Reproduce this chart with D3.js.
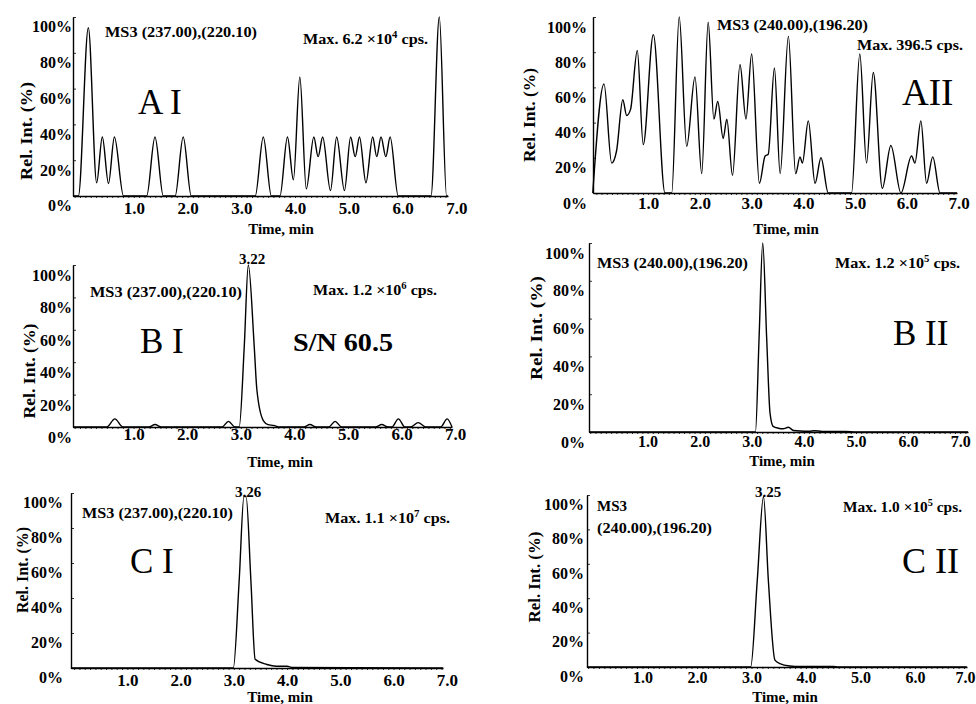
<!DOCTYPE html>
<html><head><meta charset="utf-8">
<script src="https://cdn.jsdelivr.net/npm/d3@7"></script>
<style>
body{margin:0;background:#fff}
svg{display:block}
text{font-family:"Liberation Serif","Times New Roman",serif;fill:#000}
</style></head>
<body><svg id="chart" width="976" height="704"></svg>
<script>
// ---------- data ----------
const X_TICKS = [1, 2, 3, 4, 5, 6, 7];
const Y_TICKS = [0, 20, 40, 60, 80, 100];

// A I : MS3 (237.00),(220.10)
const aiTime = [-0.13, -0.03, 0.155, 0.31, 0.415, 0.53, 0.64, 0.81, 1.24, 1.395, 1.55, 1.77, 1.92, 2.07, 3.26, 3.41, 3.56, 3.72, 3.86, 3.97, 4.09, 4.21, 4.35, 4.43, 4.515, 4.66, 4.775, 4.92, 5.035, 5.12, 5.20, 5.32, 5.445, 5.52, 5.60, 5.69, 5.77, 5.92, 6.53, 6.685, 6.82, 6.846];
const aiInt  = [0, 0, 94, 7.4, 33, 7, 33, 0, 0, 33, 0, 0, 33, 0, 0, 33, 0, 0, 33, 9, 66.5, 4, 33, 22, 33, 3, 33, 3, 33, 22, 33, 7.4, 33, 22, 33, 22, 33, 0, 0, 100, 0, 0];

// A II : MS3 (240.00),(196.20)
const aiiTime = [-0.07, 0.147, 0.295, 0.39, 0.51, 0.585, 0.66, 0.79, 0.905, 1.10, 1.325, 1.455, 1.60, 1.745, 1.905, 2.035, 2.16, 2.27, 2.345, 2.45, 2.52, 2.63, 2.775, 2.89, 3.00, 3.15, 3.26, 3.32, 3.44, 3.55, 3.71, 3.85, 3.935, 3.98, 4.095, 4.225, 4.34, 4.48, 4.93, 5.09, 5.22, 5.35, 5.525, 5.69, 5.885, 6.09, 6.155, 6.27, 6.38, 6.50, 6.64, 6.968];
const aiiInt  = [0, 62, 17, 24, 53, 44, 47.5, 81, 27.5, 90, 0, 0, 100, 26.5, 66, 11, 97, 42, 52, 31, 42, 10, 73, 42, 79, 5.5, 21, 22, 71, 11, 89, 11, 20.5, 17, 41, 5.5, 20, 0, 0, 79, 17, 68.5, 2.6, 27, 0, 21, 17, 41, 5.5, 20.5, 0, 0];

// B I
const biTime = [-0.13, 0.5, 0.65, 0.8, 1.28, 1.40, 1.52, 2.65, 2.77, 2.89, 2.97, 3.065, 3.14, 3.25, 3.30, 3.42, 3.51, 3.61, 3.73, 4.17, 4.29, 4.41, 4.64, 4.76, 4.88, 5.51, 5.63, 5.75, 5.82, 5.94, 6.06, 6.17, 6.31, 6.45, 6.73, 6.85, 6.94];
const biInt  = [0, 0, 5, 0, 0, 1.5, 0, 0, 3.5, 0, 0, 50, 100, 50, 23, 4, 1.5, 1, 0, 0, 1.5, 0, 0, 3.5, 0, 0, 1.5, 0, 0, 5, 0, 0, 2.7, 0, 0, 5, 0];

// B II
const biiTime = [-0.125, 3.07, 3.14, 3.21, 3.285, 3.35, 3.41, 3.51, 3.60, 3.70, 3.80, 3.93, 4.10, 4.20, 4.35, 4.80, 5.00, 7.15];
const biiInt  = [0, 0, 50, 100, 50, 10, 3, 2, 1.7, 2.5, 0.8, 0.5, 0.4, 0.7, 0.3, 0.3, 0, 0];

// C I
const ciTime = [-0.06, 2.99, 3.10, 3.19, 3.23, 3.32, 3.40, 3.62, 3.80, 4.00, 4.10, 6.93];
const ciInt  = [0, 0, 50, 98, 98, 50, 5, 2, 1, 1, 0.3, 0];

// C II
const ciiTime = [-0.02, 2.985, 3.105, 3.22, 3.31, 3.43, 3.52, 3.70, 3.90, 4.50, 4.60, 6.95];
const ciiInt  = [0, 0, 50, 99, 50, 4, 2, 0.6, 0.3, 0.3, 0, 0];

const panelNames = ["A I", "AII", "B I", "B II", "C I", "C II"];
const ms3Text = [["MS3 (237.00),(220.10)"], ["MS3 (240.00),(196.20)"], ["MS3 (237.00),(220.10)"], ["MS3 (240.00),(196.20)"], ["MS3 (237.00),(220.10)"], ["MS3", "(240.00),(196.20)"]];
const maxMant = ["6.2", "396.5", "1.2", "1.2", "1.1", "1.0"];
const maxExp  = ["4", null, "6", "5", "7", "5"];
const peakLabel = [null, null, "3.22", null, "3.26", "3.25"];
const snText = "S/N 60.5";

// ---------- layout (pixels) ----------
const layout = [
  {t: aiTime, v: aiInt, ax: [73, 448], ay: [196, 17], zero: 80, slope: 53.75, yLabR: 72, yLabDy: 9.3, xLabY: 208, xFs: 17,
   ms3: [{x: 105, y: 37, w: 152}], max: {x: 303, y: 44, w: 125}, big: {x: 138, y: 114, s: 35},
   ylab: {x: 26, y: 131, w: 98}, time: {x: 281, y: 234}, peak: null},
  {t: aiiTime, v: aiiInt, ax: [593, 957], ay: [193, 17], zero: 596.4, slope: 51.75, yLabR: 587, yLabDy: 9.5, xLabY: 203, xFs: 17,
   ms3: [{x: 717, y: 30, w: 151}], max: {x: 857, y: 50, w: 106}, big: {x: 902, y: 105, s: 37},
   ylab: {x: 529, y: 115, w: 94}, time: {x: 786, y: 234}, peak: null},
  {t: biTime, v: biInt, ax: [73, 452], ay: [427, 265], zero: 80, slope: 53.6, yLabR: 72, yLabDy: 10, xLabY: 434, xFs: 17,
   ms3: [{x: 90, y: 297, w: 152}], max: {x: 313, y: 295, w: 124}, big: {x: 140, y: 353, s: 35},
   ylab: {x: 29, y: 371, w: 95}, time: {x: 280, y: 467}, peak: {x: 252, y: 264}, sn: {x: 293, y: 351, w: 100}},
  {t: biiTime, v: biiInt, ax: [589, 968], ay: [432, 243], zero: 595.5, slope: 52.1, yLabR: 585, yLabDy: 9.5, xLabY: 441, xFs: 16,
   ms3: [{x: 597, y: 268, w: 151}], max: {x: 835, y: 268, w: 125}, big: {x: 893, y: 345, s: 35},
   ylab: {x: 536, y: 328, w: 104}, time: {x: 782, y: 466}, peak: null},
  {t: ciTime, v: ciInt, ax: [71, 443], ay: [668, 493], zero: 74.1, slope: 53.25, yLabR: 63, yLabDy: 9.3, xLabY: 680, xFs: 17,
   ms3: [{x: 82, y: 518, w: 151}], max: {x: 325, y: 523, w: 125}, big: {x: 130, y: 573, s: 35},
   ylab: {x: 22, y: 570, w: 86}, time: {x: 280, y: 702}, peak: {x: 248, y: 497}},
  {t: ciiTime, v: ciiInt, ax: [587, 967], ay: [667, 495], zero: 588, slope: 54.5, yLabR: 584, yLabDy: 8.7, xLabY: 677, xFs: 16,
   ms3: [{x: 597, y: 511, w: 0}, {x: 597, y: 533, w: 115}], max: {x: 843, y: 512, w: 119}, big: {x: 902, y: 573, s: 36},
   ylab: {x: 534, y: 577, w: 91}, time: {x: 785, y: 702}, peak: {x: 768, y: 497}}
];

// ---------- drawing ----------
const svg = d3.select("#chart");
svg.append("rect").attr("width", 976).attr("height", 704).attr("fill", "#fff");

layout.forEach((L, i) => {
  const d0 = (L.ax[0] - L.zero) / L.slope, d1 = (L.ax[1] - L.zero) / L.slope;
  const x = d3.scaleLinear().domain([d0, d1]).range(L.ax);
  const y = d3.scaleLinear().domain([0, 100]).range(L.ay);
  const g = svg.append("g");

  // minor ticks on x axis
  const minor = d3.range(Math.ceil(d0 * 10) / 10, d1, 0.1);
  g.append("g").attr("transform", `translate(0,${L.ay[0]})`)
    .call(d3.axisBottom(x).tickValues(minor).tickSize(2).tickSizeOuter(0).tickFormat(""))
    .call(s => s.select(".domain").remove())
    .call(s => s.selectAll("line").attr("stroke", "#000").attr("stroke-width", 0.8));

  // x axis with labels
  const xa = g.append("g").attr("transform", `translate(0,${L.ay[0]})`)
    .call(d3.axisBottom(x).tickValues(X_TICKS).tickFormat(d3.format(".1f")).tickSize(0).tickSizeOuter(0));
  xa.select(".domain").attr("stroke", "#000").attr("stroke-width", 1.4);
  xa.selectAll("text").attr("y", L.xLabY - L.ay[0]).attr("dy", "0.35em")
    .attr("x", d => (x(d) + 10 > 975 ? 975 - 10 - x(d) : 0))
    .style("font-family", '"Liberation Serif", serif').style("font-size", L.xFs + "px").style("font-weight", "bold");

  // y axis
  const ya = g.append("g").attr("transform", `translate(${L.ax[0]},0)`)
    .call(d3.axisLeft(y).tickValues(Y_TICKS).tickFormat(d => d + "%").tickSize(-3).tickSizeOuter(0));
  ya.select(".domain").attr("stroke", "#000").attr("stroke-width", 1.4);
  ya.selectAll("line").attr("stroke", "#000").attr("stroke-width", 0.8);
  ya.selectAll("text").attr("x", L.yLabR - L.ax[0]).attr("y", L.yLabDy).attr("dy", "0.35em")
    .attr("text-anchor", "end")
    .style("font-family", '"Liberation Serif", serif').style("font-size", "16px").style("font-weight", "bold");

  // chromatogram trace
  const pts = L.t.map((t, k) => [t, L.v[k]]);
  g.append("path").datum(pts)
    .attr("fill", "none").attr("stroke", "#000").attr("stroke-width", 1.4).attr("stroke-linejoin", "round")
    .attr("d", d3.line().x(d => x(d[0])).y(d => y(d[1])).curve(d3.curveMonotoneX));

  // y label
  g.append("text").attr("transform", `translate(${L.ylab.x},${L.ylab.y}) rotate(-90)`)
    .attr("text-anchor", "middle").attr("dy", "0.35em")
    .attr("textLength", L.ylab.w).attr("lengthAdjust", "spacingAndGlyphs")
    .style("font-size", "17px").style("font-weight", "bold").text("Rel. Int. (%)");

  // x label
  g.append("text").attr("x", L.time.x).attr("y", L.time.y).attr("text-anchor", "middle")
    .style("font-size", "15px").style("font-weight", "bold").text("Time, min");

  // MS3 annotation
  ms3Text[i].forEach((s, k) => {
    const p = L.ms3[k];
    const tx = g.append("text").attr("x", p.x).attr("y", p.y)
      .style("font-size", "15px").style("font-weight", "bold").text(s);
    if (p.w) tx.attr("textLength", p.w).attr("lengthAdjust", "spacingAndGlyphs");
  });

  // Max annotation
  const mt = g.append("text").attr("x", L.max.x).attr("y", L.max.y)
    .attr("textLength", L.max.w).attr("lengthAdjust", "spacingAndGlyphs")
    .style("font-size", "15px").style("font-weight", "bold");
  if (maxExp[i]) {
    mt.append("tspan").text(`Max. ${maxMant[i]} \u00d710`);
    mt.append("tspan").attr("dy", -6).style("font-size", "10px").text(maxExp[i]);
    mt.append("tspan").attr("dy", 6).text(" cps.");
  } else {
    mt.text(`Max. ${maxMant[i]} cps.`);
  }

  // big panel label
  g.append("text").attr("x", L.big.x).attr("y", L.big.y)
    .style("font-size", L.big.s + "px").style("font-weight", "normal").text(panelNames[i]);

  // peak retention time label
  if (peakLabel[i]) {
    g.append("text").attr("x", L.peak.x).attr("y", L.peak.y).attr("text-anchor", "middle")
      .style("font-size", "15px").style("font-weight", "bold").text(peakLabel[i]);
  }
  if (L.sn) {
    g.append("text").attr("x", L.sn.x).attr("y", L.sn.y)
      .attr("textLength", L.sn.w).attr("lengthAdjust", "spacingAndGlyphs")
      .style("font-size", "26px").style("font-weight", "bold").text(snText);
  }
});
</script>
</body></html>
